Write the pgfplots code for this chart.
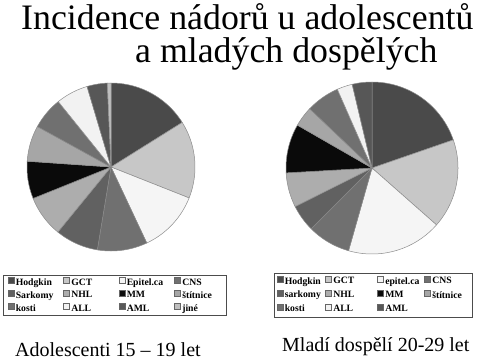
\documentclass[border=0pt]{standalone}
\usepackage{pgfplots}
\pgfplotsset{compat=1.18}
\usepackage{fontspec}
\setmainfont{Liberation Serif}
\definecolor{edge}{gray}{0.55}
\definecolor{cHod}{gray}{0.29}
\definecolor{cGCT}{gray}{0.78}
\definecolor{cEpi}{gray}{0.96}
\definecolor{cCNS}{gray}{0.44}
\definecolor{cSar}{gray}{0.38}
\definecolor{cNHL}{gray}{0.68}
\definecolor{cMM}{gray}{0.04}
\definecolor{cSti}{gray}{0.65}
\definecolor{cKos}{gray}{0.44}
\definecolor{cALL}{gray}{0.95}
\definecolor{cAML}{gray}{0.34}
\definecolor{cJin}{gray}{0.75}
\gdef\cum{0}
% #1 colour, #2 share in percent, #3 legend text
\newcommand\slice[3]{%
  \pgfmathsetmacro\sa{\cum}%
  \pgfmathsetmacro\sb{\cum+3.6*#2}%
  \edef\temp{\noexpand\addplot[fill=#1, draw=edge, line width=0.5pt, domain=\sa:\sb, samples=60] ({sin(x)},{cos(x)}) -- (axis cs:0,0) -- cycle;}%
  \temp
  \addlegendentry{#3}%
  \xdef\cum{\sb}}
\pgfplotsset{pie/.style={scale only axis, axis lines=none, clip=false,
  xmin=-1, xmax=1, ymin=-1, ymax=1, anchor=center,
  legend columns=4,
  legend image code/.code={\draw[##1, draw=black!60, line width=0.5pt] (0pt,-0.5pt) rectangle (6pt,5.5pt);},
  legend style={font=\fontsize{9.7}{11}\selectfont\bfseries, draw=black!70, line width=0.6pt,
    inner xsep=4.5pt, inner ysep=1.5pt, row sep=2.1pt, cells={anchor=west},
    nodes={inner xsep=1.5pt, inner ysep=1pt}, anchor=north west},
  }}
\begin{document}
\begin{tikzpicture}[x=1pt,y=1pt]
\useasboundingbox (0,0) rectangle (486,362);
\node[anchor=base west, font=\fontsize{35.8}{36}\selectfont, inner sep=0pt] at (21,332) {Incidence nádorů u adolescentů};
\node[anchor=base west, font=\fontsize{35.8}{36}\selectfont, inner sep=0pt] at (135,299) {a mladých dospělých};
\begin{axis}[pie, width=168pt, height=168pt, at={(111pt,195pt)},
  legend style={at={(-0.143,-0.143)}}]
\gdef\cum{0}
\slice{cHod}{16.1}{\makebox[46pt][l]{Hodgkin}}
\slice{cGCT}{14.9}{\makebox[46pt][l]{GCT}}
\slice{cEpi}{12.0}{\makebox[46pt][l]{Epitel.ca}}
\slice{cCNS}{9.6}{\makebox[38pt][l]{CNS}}
\slice{cSar}{8.3}{Sarkomy}
\slice{cNHL}{8.0}{NHL}
\slice{cMM}{7.2}{MM}
\slice{cSti}{6.9}{štítnice}
\slice{cKos}{6.2}{kosti}
\slice{cALL}{6.2}{ALL}
\slice{cAML}{3.9}{AML}
\slice{cJin}{0.7}{jiné}
\end{axis}
\begin{axis}[pie, width=172pt, height=172pt, at={(372pt,194pt)},
  legend style={at={(-0.070,-0.110)}, row sep=3pt, inner ysep=2.5pt, inner xsep=2.5pt}]
\gdef\cum{0}
\slice{cHod}{19.7}{\makebox[39pt][l]{Hodgkin}}
\slice{cGCT}{16.8}{\makebox[42.5pt][l]{GCT}}
\slice{cEpi}{17.9}{\makebox[37.5pt][l]{epitel.ca}}
\slice{cCNS}{8.1}{\makebox[36pt][l]{CNS}}
\slice{cSar}{5.1}{sarkomy}
\slice{cNHL}{6.5}{NHL}
\slice{cMM}{9.2}{MM}
\slice{cSti}{3.8}{štítnice}
\slice{cKos}{6.3}{kosti}
\slice{cALL}{2.9}{ALL}
\slice{cAML}{3.7}{AML}
\end{axis}
\node[anchor=base west, font=\fontsize{20}{20}\selectfont, inner sep=0pt] at (15,5.3) {Adolescenti 15 – 19 let};
\node[anchor=base west, font=\fontsize{20}{20}\selectfont, inner sep=0pt] at (282,10.3) {Mladí dospělí 20-29 let};
\end{tikzpicture}
\end{document}
